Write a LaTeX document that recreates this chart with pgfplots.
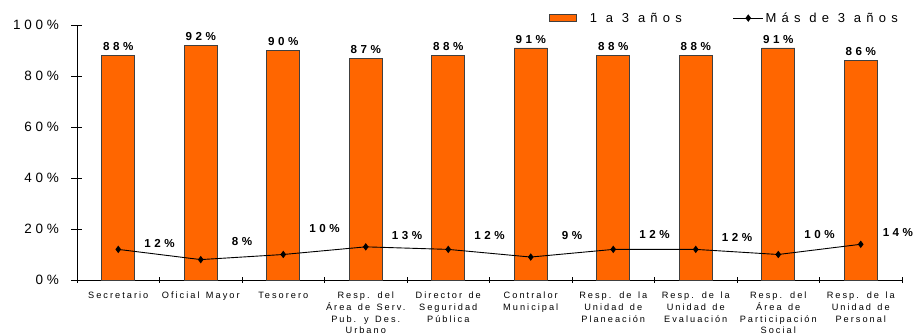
\documentclass[border=0pt]{standalone}
\usepackage{fontspec}
\setmainfont{Liberation Sans}
\newfontfamily\lsA[LetterSpace=28]{Liberation Sans}
\newfontfamily\lsB[LetterSpace=30]{Liberation Sans}
\newfontfamily\lsC[LetterSpace=40]{Liberation Sans}
\newfontfamily\lsD[LetterSpace=22,WordSpace=1.4]{Liberation Sans}
\usepackage{pgfplots}
\usepackage{pgfplotstable}
\pgfplotsset{compat=1.18}
\definecolor{barorange}{HTML}{FF6600}
\pgfplotsset{
  barlegend/.style={legend image code/.code={\draw[##1] (0pt,-3.7pt) rectangle (27pt,3.7pt);}},
  linelegend/.style={legend image code/.code={\draw[##1,mark repeat=2,mark phase=2] plot coordinates {(0pt,0pt) (15pt,0pt) (30pt,0pt)};}},
}

\pgfplotstableread{
x bar line
1 88 12
2 92 8
3 90 10
4 87 13
5 88 12
6 91 9
7 88 12
8 88 12
9 91 10
10 86 14
}\datatable

% positions of the labels of the line series (as placed in the reference)
\pgfplotstableread{
lx ly v
1.5 14.5 12
2.5 14.9 8
3.5 20.0 10
4.5 17.3 13
5.5 17.6 12
6.5 17.6 9
7.5 18.0 12
8.5 16.5 12
9.5 18.0 10
10.45 18.8 14
}\labeltable

\begin{document}
\begin{tikzpicture}
\path[use as bounding box] (-77pt,-54pt) rectangle (839pt,280pt);
\begin{axis}[
  at={(0pt,0pt)}, anchor=south west,
  scale only axis, width=825pt, height=255pt,
  xmin=0.5, xmax=10.5, ymin=0, ymax=100,
  clip=false,
  axis x line*=bottom, axis y line*=left,
  axis line style={-, line width=0.8pt},
  tick align=center,
  major tick length=11pt, minor tick length=6pt,
  tick style={line width=0.8pt, black},
  ytick={0,20,40,60,80,100},
  yticklabels={0\%,20\%,40\%,60\%,80\%,100\%},
  yticklabel style={font=\lsA\fontsize{13.5}{15}\selectfont, xshift=-9pt},
  xtick={1,...,10},
  major x tick style={draw=none},
  minor xtick={0.5,1.5,...,10.5},
  xticklabels={
    Secretario,
    Oficial Mayor,
    Tesorero,
    Resp. del\\Área de Serv.\\Pub. y Des.\\Urbano,
    Director de\\Seguridad\\Pública,
    Contralor\\Municipal,
    Resp. de la\\Unidad de\\Planeación,
    Resp. de la\\Unidad de\\Evaluación,
    Resp. del\\Área de\\Participación\\Social,
    Resp. de la\\Unidad de\\Personal},
  xticklabel style={font=\lsD\fontsize{9.2}{11.7}\selectfont, align=center, yshift=-3pt},
  /pgf/number format/assume math mode=true,
  legend columns=2,
  legend style={draw=none, fill=none, at={(axis description cs:1.0,1.027)}, anchor=east,
    font=\lsC\fontsize{13}{15}\selectfont,
    /tikz/column 1/.style={column sep=12pt},
    /tikz/column 2/.style={column sep=50pt},
    /tikz/column 3/.style={column sep=1pt},
    nodes={inner sep=1pt}},
]
\addplot[ybar, bar width=0.4, fill=barorange, draw=black!75, line width=0.8pt,
  nodes near coords={\pgfmathprintnumber{\pgfplotspointmeta}\%},
  every node near coord/.append style={font=\lsB\bfseries\fontsize{11.6}{13}\selectfont, text=black, yshift=1pt},
  barlegend
] table[x=x, y=bar] {\datatable};
\addlegendentry{1 a 3 años}
\addplot[black, line width=0.9pt, mark=diamond*, mark size=3pt, linelegend
] table[x=x, y=line] {\datatable};
\addlegendentry{Más de 3 años}
\addplot[draw=none, mark=none, forget plot, point meta=explicit,
  nodes near coords={\pgfmathprintnumber{\pgfplotspointmeta}\%},
  every node near coord/.append style={font=\lsB\bfseries\fontsize{11.6}{13}\selectfont, text=black, anchor=center}
] table[x=lx, y=ly, meta=v] {\labeltable};
\end{axis}
\end{tikzpicture}
\end{document}
